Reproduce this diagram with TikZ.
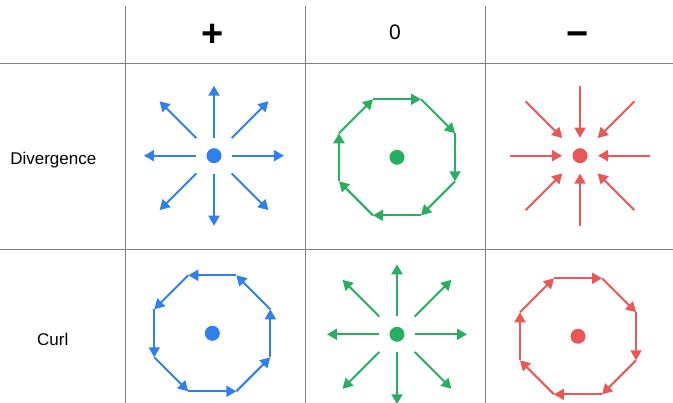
\documentclass[tikz,border=0pt]{standalone}
\usepackage{fontspec}
\setmainfont{Liberation Sans}
\usetikzlibrary{arrows.meta,calc}
\definecolor{poscolor}{RGB}{47,128,237}
\definecolor{zerocolor}{RGB}{39,174,96}
\definecolor{negcolor}{RGB}{235,87,87}
\definecolor{gridcolor}{RGB}{128,128,128}

\begin{document}
\begin{tikzpicture}[x=1pt, y=-1pt,
    gridline/.style={gridcolor, line width=1.3pt},
    dot/.style={circle, fill, inner sep=0pt, minimum size=15pt},
    vec/.style={line width=2pt, -{Triangle[length=10pt, width=11pt]}},
    rowlabel/.style={anchor=base, font=\fontsize{17}{17}\selectfont},
    colhead/.style={font=\fontsize{21}{21}\selectfont},
    signhead/.style={font=\fontsize{38}{38}\selectfont\bfseries}
]
\useasboundingbox (0,0) rectangle (673,403);

% Grid
\draw[gridline] (0,63.3) -- (673,63.3);
\draw[gridline] (0,249.3) -- (673,249.3);
\draw[gridline] (125.7,6) -- (125.7,403);
\draw[gridline] (305.3,6) -- (305.3,403);
\draw[gridline] (485.3,6) -- (485.3,403);

% Column and row labels
\node[signhead] (hpos) at (213,35.5) {+};
\node[colhead] (hzero) at (395,32.5) {0};
\node[signhead] (hneg) at (578,35) {\vphantom{+}−};
\node[rowlabel] (ldiv) at (53.3,165) {Divergence};
\node[rowlabel] (lcurl) at (52.8,345.7) {Curl};

% Centre dots
\node[dot, poscolor] (divpos) at (214,155.7) {};
\node[dot, zerocolor] (divzero) at (397,157.3) {};
\node[dot, negcolor] (divneg) at (580,155.7) {};
\node[dot, poscolor] (curlpos) at (212.3,333.3) {};
\node[dot, zerocolor] (curlzero) at (397,334.3) {};
\node[dot, negcolor] (curlneg) at (578,336.3) {};

% Sources (outward) and sink (inward)
\foreach \a in {0,90,180,270} {
    \draw[vec, poscolor] ($(divpos)+(\a:18)$) -- ($(divpos)+(\a:70)$);
    \draw[vec, zerocolor] ($(curlzero)+(\a:18)$) -- ($(curlzero)+(\a:70)$);
    \draw[vec, negcolor] ($(divneg)+(\a:70)$) -- ($(divneg)+(\a:18)$);
}
\foreach \a in {45,135,225,315} {
    \draw[vec, poscolor] ($(divpos)+(\a:25)$) -- ($(divpos)+(\a:77)$);
    \draw[vec, zerocolor] ($(curlzero)+(\a:25)$) -- ($(curlzero)+(\a:77)$);
    \draw[vec, negcolor] ($(divneg)+(\a:77)$) -- ($(divneg)+(\a:25)$);
}

% Circulation (octagons)
\foreach \a in {22.5,67.5,...,337.5} {
    \draw[vec, zerocolor] ($(divzero)+(\a:62.8)$) -- ($(divzero)+(\a+45:62.8)$);
    \draw[vec, negcolor] ($(curlneg)+(\a:62.8)$) -- ($(curlneg)+(\a+45:62.8)$);
    \draw[vec, poscolor] ($(curlpos)+(\a:62.8)$) -- ($(curlpos)+(\a-45:62.8)$);
}

\end{tikzpicture}
\end{document}
